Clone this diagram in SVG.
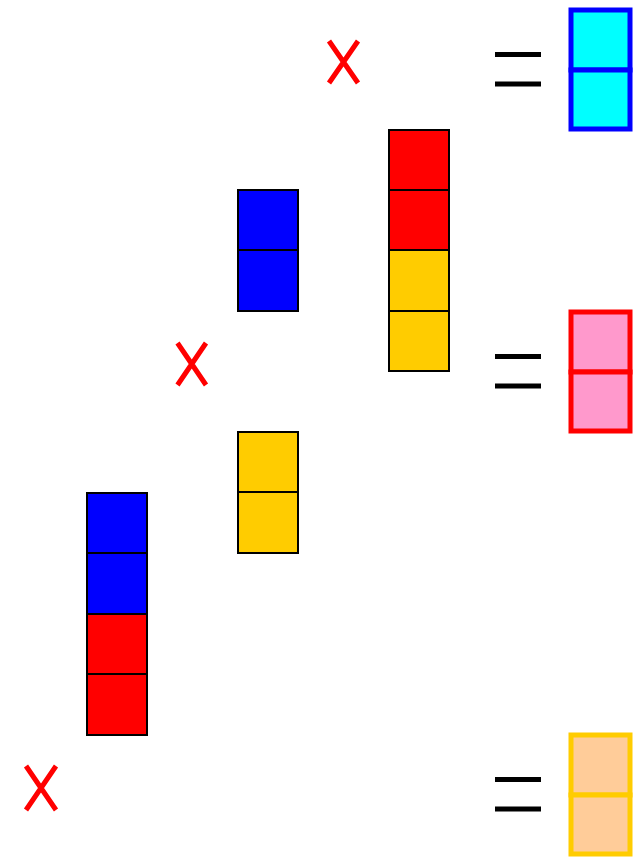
<svg xmlns="http://www.w3.org/2000/svg" width="641" height="858" viewBox="0 0 641 858">
<style>
.cell{stroke:#000;stroke-width:2}
.res{stroke-width:5}
.x{stroke:#f00;stroke-width:5;fill:none}
.eq{stroke:#000;stroke-width:5}
</style>
<rect width="641" height="858" fill="#fff"/>
<g id="col1">
<rect class="cell" x="87" y="493" width="60" height="60" fill="#00f"/>
<rect class="cell" x="87" y="553" width="60" height="61" fill="#00f"/>
<rect class="cell" x="87" y="614" width="60" height="60" fill="#f00"/>
<rect class="cell" x="87" y="674" width="60" height="61" fill="#f00"/>
</g>
<g id="col2-blue">
<rect class="cell" x="238" y="190" width="60" height="60" fill="#00f"/>
<rect class="cell" x="238" y="250" width="60" height="61" fill="#00f"/>
</g>
<g id="col2-yellow">
<rect class="cell" x="238" y="432" width="60" height="60" fill="#fc0"/>
<rect class="cell" x="238" y="492" width="60" height="61" fill="#fc0"/>
</g>
<g id="col3">
<rect class="cell" x="389" y="130" width="60" height="60" fill="#f00"/>
<rect class="cell" x="389" y="190" width="60" height="60" fill="#f00"/>
<rect class="cell" x="389" y="250" width="60" height="61" fill="#fc0"/>
<rect class="cell" x="389" y="311" width="60" height="60" fill="#fc0"/>
</g>
<g id="res1">
<rect class="res" x="571" y="10" width="59" height="60" fill="#0ff" stroke="#00f"/>
<rect class="res" x="571" y="70" width="59" height="59" fill="#0ff" stroke="#00f"/>
</g>
<g id="res2">
<rect class="res" x="571" y="312" width="59" height="60" fill="#f9c" stroke="#f00"/>
<rect class="res" x="571" y="372" width="59" height="59" fill="#f9c" stroke="#f00"/>
</g>
<g id="res3">
<rect class="res" x="571" y="735" width="59" height="60" fill="#fc9" stroke="#fc0"/>
<rect class="res" x="571" y="795" width="59" height="59" fill="#fc9" stroke="#fc0"/>
</g>
<g id="times">
<path class="x" d="M329,41 L358,83 M358,41 L329,83"/>
<path class="x" d="M177.5,343 L206,385 M206,343 L177.5,385"/>
<path class="x" d="M26,766 L56,810 M56,766 L26,810"/>
</g>
<g id="equals">
<path class="eq" d="M495,54.5 H541 M495,84 H541"/>
<path class="eq" d="M495,356.5 H541 M495,386 H541"/>
<path class="eq" d="M495,779.5 H541 M495,809 H541"/>
</g>
</svg>
